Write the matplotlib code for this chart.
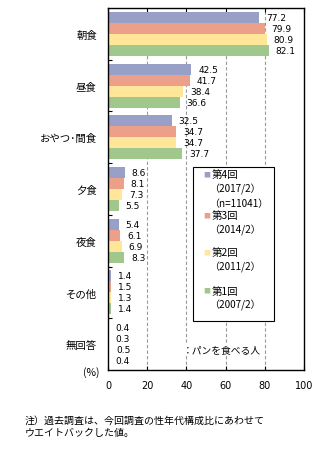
import matplotlib
matplotlib.use("Agg")
import matplotlib.pyplot as plt
import numpy as np
from matplotlib.patches import Rectangle

plt.rcParams['font.family'] = ['Noto Sans CJK JP', 'DejaVu Sans']

categories = ["朝食", "昼食", "おやつ･間食", "夕食", "夜食", "その他", "無回答"]
series_names = ["第4回", "第3回", "第2回", "第1回"]
series_sub = [["（2017/2）", "（n=11041）"], ["（2014/2）"], ["（2011/2）"], ["（2007/2）"]]
r4 = [77.2, 42.5, 32.5, 8.6, 5.4, 1.4, 0.4]
r3 = [79.9, 41.7, 34.7, 8.1, 6.1, 1.5, 0.3]
r2 = [80.9, 38.4, 34.7, 7.3, 6.9, 1.3, 0.5]
r1 = [82.1, 36.6, 37.7, 5.5, 8.3, 1.4, 0.4]
series = [r4, r3, r2, r1]
colors = ["#99A0C7", "#ECA08A", "#FFE699", "#A0C88C"]

fig = plt.figure(figsize=(3.23, 4.56), dpi=100)
ax = fig.add_axes([108/323, 1-371/456, 196/323, 362/456])

y = np.arange(len(categories))
h = 0.213
for i, vals in enumerate(series):
    pos = y + (i - 1.5) * h
    ax.barh(pos, vals, height=h, color=colors[i], zorder=2)
    for p, v in zip(pos, vals):
        ax.annotate(f"{v:.1f}", (v, p), xytext=(5, 0), textcoords="offset points",
                    ha="left", va="center", fontsize=6.5, family=['DejaVu Sans'])

ax.set_xlim(0, 100)
ax.set_ylim(len(categories) - 0.5, -0.5)
ax.set_xticks(np.arange(0, 101, 20))
ax.set_yticks(y)
ax.set_yticklabels(categories, fontsize=7.5)
ax.set_yticks(np.arange(0.5, len(categories) - 1, 1), minor=True)
ax.tick_params(axis='y', which='major', length=0, pad=8)
ax.tick_params(axis='y', which='minor', direction='in', length=3, width=0.8)
ax.tick_params(axis='x', direction='in', length=3, width=0.8, top=True, pad=7, labelsize=7)
for lab in ax.get_xticklabels():
    lab.set_family(['DejaVu Sans'])

for gx in [20, 40, 60, 80]:
    ax.axvline(gx, color="#999999", linestyle=(0, (3, 2)), linewidth=0.8, zorder=1)

for sp in ax.spines.values():
    sp.set_linewidth(1.0)

# legend box
ax.add_patch(Rectangle((0.434, 0.135), 0.413, 0.426, transform=ax.transAxes,
                       facecolor="white", edgecolor="black", linewidth=0.8, zorder=3))
first_line_px = [175.3, 216, 253.3, 291.7]
line_px = 14.2
for i, name in enumerate(series_names):
    ypx = first_line_px[i]
    ya = 1 - (ypx - 9) / 362
    ax.text(0.505, ya, "■", color=colors[i], transform=ax.transAxes, fontsize=5,
            ha="center", va="center", zorder=4)
    ax.text(0.53, ya, name, transform=ax.transAxes, fontsize=7.5,
            ha="left", va="center", zorder=4)
    for j, sub in enumerate(series_sub[i]):
        ya2 = 1 - (ypx + line_px * (j + 1) - 9) / 362
        ax.text(0.515, ya2, sub, transform=ax.transAxes, fontsize=7.2,
                ha="left", va="center", zorder=4)

ax.text(0.383, 1 - (350 - 9) / 362, "：パンを食べる人", transform=ax.transAxes,
        fontsize=7, ha="left", va="center", zorder=4,
        bbox=dict(facecolor="white", edgecolor="none", pad=0.5))

fig.text(99/323, 1 - 373/456, "(%)", ha="right", va="center", fontsize=7.5)
fig.text(25/323, 1 - 416/456, "注）過去調査は、今回調査の性年代構成比にあわせて\nウエイトバックした値。",
         ha="left", va="top", fontsize=7.2, linespacing=1.3)

fig.savefig("out.png", dpi=100)
